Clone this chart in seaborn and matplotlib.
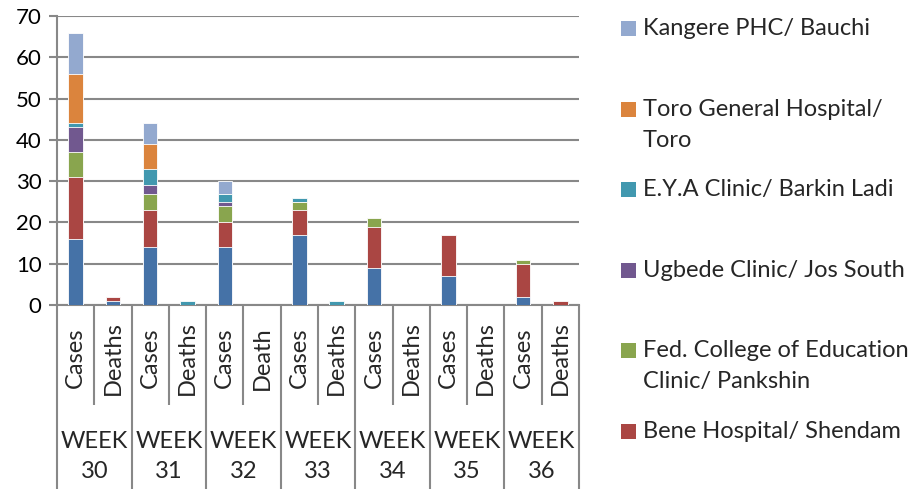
import matplotlib
matplotlib.use("Agg")
import matplotlib.pyplot as plt
import matplotlib.transforms as mtransforms
from matplotlib.patches import Rectangle
import numpy as np
import pandas as pd
import seaborn as sns

sns.set_theme(style="white")
plt.rcParams['font.family'] = ['Lato', 'DejaVu Sans']

weeks = ["30", "31", "32", "33", "34", "35", "36"]
kinds = ["Cases", "Deaths", "Cases", "Deaths", "Cases", "Death", "Cases", "Deaths",
         "Cases", "Deaths", "Cases", "Deaths", "Cases", "Deaths"]
categories = [f"W{w} {k}" for w, k in zip(np.repeat(weeks, 2), kinds)]

# series, bottom to top
unlisted      = [16, 1, 14, 0, 14, 0, 17, 0, 9, 0, 7, 0, 2, 0]
bene          = [15, 1, 9, 0, 6, 0, 6, 0, 10, 0, 10, 0, 8, 1]
fed_college   = [6, 0, 4, 0, 4, 0, 2, 0, 2, 0, 0, 0, 1, 0]
ugbede        = [6, 0, 2, 0, 1, 0, 0, 0, 0, 0, 0, 0, 0, 0]
eya           = [1, 0, 4, 1, 2, 0, 1, 1, 0, 0, 0, 0, 0, 0]
toro          = [12, 0, 6, 0, 0, 0, 0, 0, 0, 0, 0, 0, 0, 0]
kangere       = [10, 0, 5, 0, 3, 0, 0, 0, 0, 0, 0, 0, 0, 0]

series_names = ["Other", "Bene Hospital/ Shendam",
                "Fed. College of Education\nClinic/ Pankshin",
                "Ugbede Clinic/ Jos South", "E.Y.A Clinic/ Barkin Ladi",
                "Toro General Hospital/\nToro", "Kangere PHC/ Bauchi"]
series_vals = [unlisted, bene, fed_college, ugbede, eya, toro, kangere]
colors = ["#4572A7", "#AA4643", "#89A54E", "#71588F", "#4198AF", "#DB843D", "#93A9CF"]

cum = np.cumsum(np.array(series_vals), axis=0)

W, Hf = 919, 493
L, R, T, B = 57, 579, 16, 305
fig = plt.figure(figsize=(W / 100, Hf / 100), dpi=100)
ax = fig.add_axes([L / W, 1 - B / Hf, (R - L) / W, (B - T) / Hf])

grid_c = "#888888"
for i in range(len(series_vals) - 1, -1, -1):
    df = pd.DataFrame({"cat": categories, "val": cum[i]})
    sns.barplot(data=df, x="cat", y="val", order=categories, color=colors[i],
                saturation=1, width=0.39, ax=ax, edgecolor="white", linewidth=0.6,
                zorder=3)

ax.set_xlim(-0.5, len(categories) - 0.5)
ax.set_ylim(0, 70)
ax.set_yticks(range(0, 71, 10))
ax.yaxis.grid(True, color=grid_c, linewidth=1.5)
ax.set_axisbelow(True)
ax.set_xticks([])
ax.set_xlabel("")
ax.set_ylabel("")
for s in ["top", "right"]:
    ax.spines[s].set_visible(False)
for s in ["left", "bottom"]:
    ax.spines[s].set_color(grid_c)
    ax.spines[s].set_linewidth(1.5)
ax.tick_params(axis="y", which="major", direction="out", length=6, width=1.5,
               color=grid_c, labelsize=16, labelcolor="black", pad=5, left=True)

trans = mtransforms.blended_transform_factory(ax.transData, ax.transAxes)
H = B - T
def fy(px):
    return -(px - B) / H

for b in range(len(categories) + 1):
    xb = b - 0.5
    y_end = fy(489) if b % 2 == 0 else fy(405)
    ax.plot([xb, xb], [0, y_end], color=grid_c, linewidth=1.5, transform=trans,
            clip_on=False, solid_capstyle="butt")

for i, k in enumerate(kinds):
    ax.text(i, fy(358), k, rotation=90, ha="center", va="center", fontsize=17,
            transform=trans)
for w, wk in enumerate(weeks):
    ax.text(2 * w + 0.5, fy(441), "WEEK", ha="center", va="center",
            fontsize=17, transform=trans)
    ax.text(2 * w + 0.5, fy(472), wk, ha="center", va="center",
            fontsize=17, transform=trans)

# legend (Excel-style equal slots)
legend_order = [6, 5, 4, 3, 2, 1]
for j, idx in enumerate(legend_order):
    base = 35 + 80.6 * j
    fig.patches.append(Rectangle((621 / W, 1 - (base + 1) / Hf), 15 / W, 15 / Hf,
                                 transform=fig.transFigure, facecolor=colors[idx],
                                 edgecolor="none"))
    for k, line in enumerate(series_names[idx].split("\n")):
        fig.text(643 / W, 1 - (base + 31 * k) / Hf, line, ha="left",
                 va="baseline", fontsize=17)

fig.savefig("out.png", dpi=100)
